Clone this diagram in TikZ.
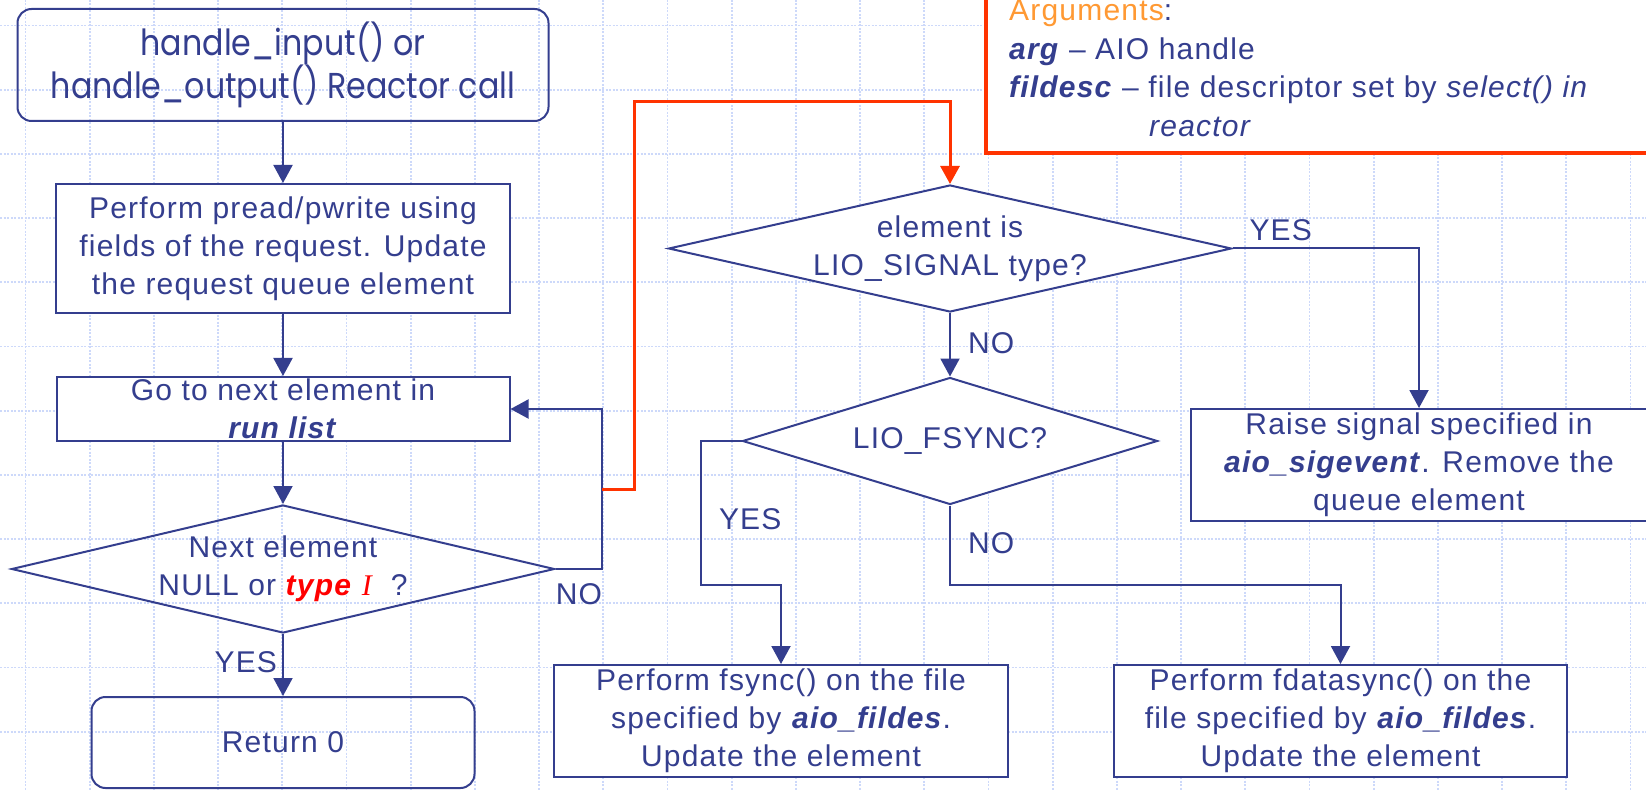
\documentclass[tikz,border=0pt]{standalone}
\usepackage{fontspec}
\setmainfont{Liberation Sans}[LetterSpace=4]
\newfontfamily\gothic[FakeStretch=0.88]{Poppins}
\newfontfamily\serifit{Liberation Serif}
\usetikzlibrary{shapes.geometric,arrows.meta,positioning}
\definecolor{navy}{RGB}{52,62,142}
\definecolor{gridblue}{RGB}{205,217,250}
\definecolor{argred}{RGB}{255,51,0}
\definecolor{argorange}{RGB}{255,153,51}
\begin{document}
\begin{tikzpicture}[x=1pt,y=-1pt,
    every node/.style={text=navy, font=\fontsize{30}{38}\selectfont},
    flow/.style={draw=navy, line width=2pt, -{Triangle[length=18pt,width=19pt]}},
    redflow/.style={draw=argred, line width=3pt, -{Triangle[length=18pt,width=19pt]}},
    procbox/.style={draw=navy, fill=white, line width=2pt, inner sep=0pt, align=center},
    endbox/.style={draw=navy, line width=2pt, rounded corners=14pt, inner sep=0pt, align=center},
    decision/.style={diamond, draw=navy, fill=white, line width=2pt, inner sep=-14pt, align=center},
    lbl/.style={inner sep=2pt},
    gridline/.style={gridblue, line width=1.8pt, dash pattern=on 2pt off 1.5pt}]
    \useasboundingbox (0,0) rectangle (1646,791);
    \clip (0,0) rectangle (1646,791);
    % background grid
    \foreach \k in {0,...,11}
        \draw [gridline] (0,{25.5+64.2*\k}) -- (1646,{25.5+64.2*\k});
    \foreach \k in {0,...,25}
        \draw [gridline] ({25.5+64.2*\k},0) -- ({25.5+64.2*\k},791);
    % left column
    \node [endbox, minimum width=531pt, minimum height=112pt, font=\gothic\fontsize{36}{43}\selectfont] (start) at (283,65) {handle\_input() or\\handle\_output() Reactor call};
    \node [procbox, minimum width=454pt, minimum height=129pt] (perform) at (283,248.5) {Perform pread/pwrite using\\fields of the request. Update\\the request queue element};
    \node [procbox, minimum width=453pt, minimum height=64pt] (nextel) at (283,409) {Go to next element in\\\textbf{\textit{run list}}};
    \node [decision, fill=none, shape aspect=4.24, minimum width=543pt, minimum height=128pt] (check) at (283,569) {Next element\\NULL or \textcolor{red}{\textbf{\textit{type}} {\serifit\itshape I}}\ \ ?};
    \node [endbox, minimum width=383pt, minimum height=91pt] (ret) at (283,742.5) {Return 0};
    % right part
    \node [decision, shape aspect=4.43, minimum width=563pt, minimum height=127pt] (sig) at (950,248.5) {element is\\LIO\_SIGNAL type?};
    \node [decision, shape aspect=3.27, minimum width=415pt, minimum height=127pt] (fsyncq) at (950,441) {LIO\_FSYNC?};
    \node [procbox, minimum width=456pt, minimum height=112pt] (raise) at (1419,465) {Raise signal specified in\\\textbf{\textit{aio\_sigevent}}. Remove the\\queue element};
    \node [procbox, minimum width=454pt, minimum height=112pt] (fsyncbox) at (781,721) {Perform fsync() on the file\\specified by \textbf{\textit{aio\_fildes}}.\\Update the element};
    \node [procbox, minimum width=453pt, minimum height=112pt] (fdbox) at (1340.5,721) {Perform fdatasync() on the\\file specified by \textbf{\textit{aio\_fildes}}.\\Update the element};
    % arguments note
    \draw [argred, fill=white, line width=3.5pt] (986,-20) rectangle (1680,153);
    \node [anchor=base west, inner sep=0pt] (argtitle) at (1009,21) {\textcolor{argorange}{Arguments}:};
    \node [anchor=base west, inner sep=0pt] (argone) at (1009,59.5) {\textbf{\textit{arg}} -- AIO handle};
    \node [anchor=base west, inner sep=0pt] (argtwo) at (1009,98) {\textbf{\textit{fildesc}} -- file descriptor set by \textit{select() in}};
    \node [anchor=base west, inner sep=0pt] (argthree) at (1149,136.5) {\textit{reactor}};
    % connectors
    \draw [flow] (start) -- (perform);
    \draw [flow] (perform) -- (nextel);
    \draw [flow] (nextel) -- (check);
    \draw [flow] (check) -- node [lbl, pos=0.45, left, xshift=-3pt] {YES} (ret);
    \draw [flow] (check.east) -- (602,569) node [lbl, anchor=north east, inner sep=0pt, xshift=1pt, yshift=-14pt] {NO} |- (nextel.east);
    \coordinate (tap) at (602,489);
    \draw [redflow] (tap) -- (634,489) |- (950,102) -- (sig.north);
    \draw [flow] (sig.east) node [lbl, anchor=south west, xshift=14pt, yshift=5pt] {YES} -| (raise.north);
    \draw [flow] (sig) -- node [lbl, pos=0.48, right, xshift=15pt] {NO} (fsyncq);
    \draw [flow] (fsyncq.west) -- (701,441) |- node [lbl, pos=0.27, right, xshift=15pt] {YES} (781,585) -- (fsyncbox.north);
    \draw [flow] (fsyncq.south) -- node [lbl, pos=0.47, right, xshift=15pt] {NO} (950,585) -| (fdbox.north);
\end{tikzpicture}
\end{document}
